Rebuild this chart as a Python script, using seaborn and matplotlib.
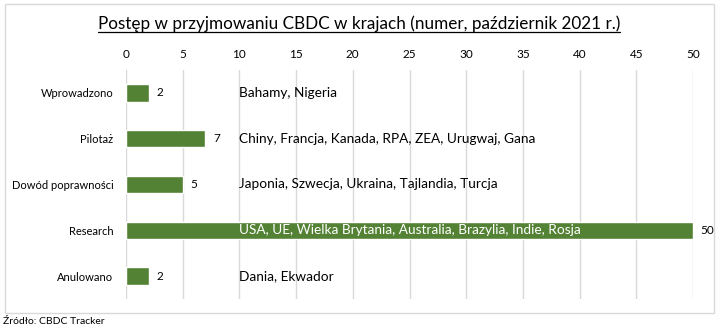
import matplotlib
matplotlib.use("Agg")
import matplotlib.pyplot as plt
import seaborn as sns
import pandas as pd
from matplotlib.patches import Rectangle
from matplotlib.lines import Line2D

categories = ["Wprowadzono", "Pilotaż", "Dowód poprawności", "Research", "Anulowano"]
values = [2, 7, 5, 50, 2]
countries = [
    "Bahamy, Nigeria",
    "Chiny, Francja, Kanada, RPA, ZEA, Urugwaj, Gana",
    "Japonia, Szwecja, Ukraina, Tajlandia, Turcja",
    "USA, UE, Wielka Brytania, Australia, Brazylia, Indie, Rosja",
    "Dania, Ekwador",
]
xticks = [0, 5, 10, 15, 20, 25, 30, 35, 40, 45, 50]
title = "Postęp w przyjmowaniu CBDC w krajach (numer, październik 2021 r.)"
source = "Źródło: CBDC Tracker"

sns.set_theme(style="white")
plt.rcParams["font.family"] = ["Lato", "DejaVu Sans"]

W, H = 721, 332
fig = plt.figure(figsize=(W / 100, H / 100), dpi=100)
fig.patch.set_facecolor("white")
ax = fig.add_axes([126 / W, 1 - 299 / H, 567 / W, 229 / H])

df = pd.DataFrame({"cat": categories, "val": values})
sns.barplot(data=df, x="val", y="cat", orient="h", color="#548235",
            saturation=1, width=0.38, ax=ax)

ax.set_xlim(0, 50)
ax.set_ylim(4.5, -0.5)
ax.set_xticks(xticks)
ax.xaxis.tick_top()
ax.tick_params(axis="x", length=0, pad=7.5, labelsize=8.5, colors="#000000")
ax.tick_params(axis="y", length=0, pad=9, labelsize=8, colors="#000000")
ax.set_xlabel("")
ax.set_ylabel("")
for s in ax.spines.values():
    s.set_visible(False)
ax.grid(axis="x", color="#d9d9d9", linewidth=1)
ax.set_axisbelow(True)

for i, (v, c) in enumerate(zip(values, countries)):
    ax.annotate(str(v), (v, i), xytext=(5.5, 0), textcoords="offset points",
                va="center", ha="left", fontsize=8.5, color="#000000")
    ax.text(10, i, c, va="center", ha="left", fontsize=9.8,
            color="white" if v > 10 else "#000000")

t = fig.text(0.5 * (99 + 619) / W, 1 - 24 / H, title, ha="center", va="center",
             fontsize=12.3, color="#000000")
fig.canvas.draw()
bb = t.get_window_extent(renderer=fig.canvas.get_renderer())
uy = 1 - 32 / H
fig.add_artist(Line2D([bb.x0 / W, bb.x1 / W], [uy, uy], color="#000000",
                      linewidth=0.9, transform=fig.transFigure))

fig.add_artist(Rectangle((5 / W, 1 - 313 / H), (714 - 5) / W, (313 - 4) / H,
                         transform=fig.transFigure, fill=False,
                         edgecolor="#d9d9d9", linewidth=1))
fig.text(3 / W, 1 - 322 / H, source, ha="left", va="center", fontsize=7.5,
         color="#000000")

fig.savefig("out.png", dpi=100)
